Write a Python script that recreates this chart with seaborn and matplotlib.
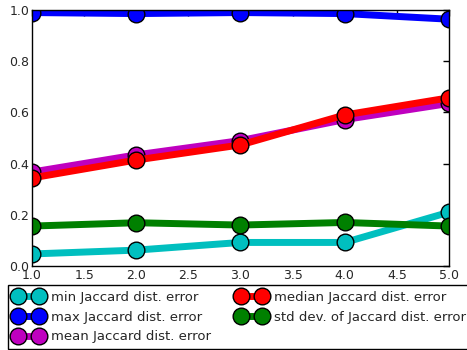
import matplotlib
matplotlib.use("Agg")
import matplotlib.pyplot as plt
import pandas as pd
import seaborn as sns

x_vals = [1, 2, 3, 4, 5]
min_err = [0.047, 0.062, 0.092, 0.092, 0.210]
max_err = [0.990, 0.986, 0.990, 0.986, 0.964]
mean_err = [0.367, 0.434, 0.490, 0.572, 0.635]
median_err = [0.344, 0.414, 0.473, 0.590, 0.657]
std_err = [0.156, 0.169, 0.160, 0.170, 0.156]

series = [
    ("min Jaccard dist. error", min_err, "#00BFBF"),
    ("max Jaccard dist. error", max_err, "#0000FF"),
    ("mean Jaccard dist. error", mean_err, "#BF00BF"),
    ("median Jaccard dist. error", median_err, "#FF0000"),
    ("std dev. of Jaccard dist. error", std_err, "#008000"),
]

sns.set_theme(style="white")
plt.rcParams["font.family"] = ["DejaVu Sans"]
plt.rcParams["xtick.direction"] = "in"
plt.rcParams["ytick.direction"] = "in"

fig = plt.figure(figsize=(4.67, 3.5), dpi=100)
ax = fig.add_axes([32 / 467, 1 - 266 / 350, 417 / 467, 256 / 350])

for name, vals, col in series:
    df = pd.DataFrame({"x": x_vals, "y": vals})
    sns.lineplot(data=df, x="x", y="y", ax=ax, color=col, linewidth=5,
                 marker="o", markersize=12, markeredgecolor="black",
                 markeredgewidth=1, label=name)

ax.set_xlim(1, 5)
ax.set_ylim(0, 1)
ax.set_xlabel("")
ax.set_ylabel("")
ax.set_xticks([1.0, 1.5, 2.0, 2.5, 3.0, 3.5, 4.0, 4.5, 5.0])
ax.set_yticks([0.0, 0.2, 0.4, 0.6, 0.8, 1.0])
ax.tick_params(axis="both", labelsize=9, length=4, width=1, color="black",
               top=True, right=True, direction="in", pad=2)
for sp in ax.spines.values():
    sp.set_color("black")
    sp.set_linewidth(1)

ax.legend(loc="upper left", bbox_to_anchor=(-24 / 417, -19 / 256),
          bbox_transform=ax.transAxes, ncol=2, numpoints=2, fontsize=9.5,
          frameon=True, shadow=True, fancybox=False, edgecolor="black",
          handlelength=2.2, handletextpad=0.6, columnspacing=2.0,
          labelspacing=0.5, borderpad=0.45, borderaxespad=0)

fig.savefig("out.png", dpi=100)
